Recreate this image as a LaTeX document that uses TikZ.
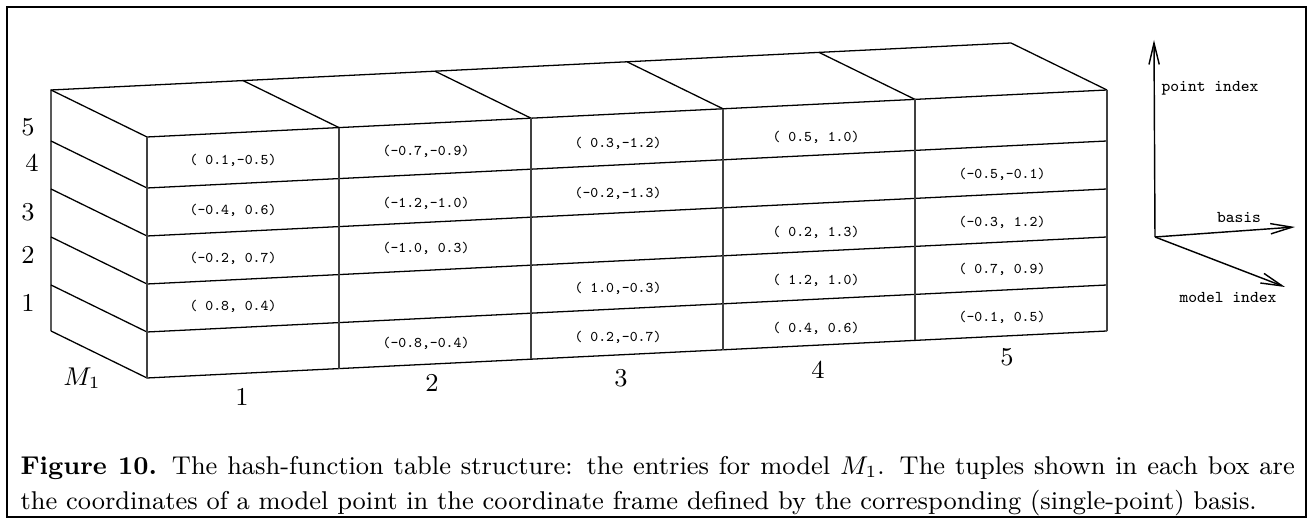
\documentclass[tikz,border=0pt]{standalone}
\usetikzlibrary{arrows.meta}
\begin{document}
\begin{tikzpicture}[x=0.35pt,y=-0.35pt,
  grid/.style={line width=0.45pt},
  colline/.style={line width=0.45pt, black!75},
  entry/.style={font=\ttfamily\fontsize{5.2}{6}\selectfont, inner sep=0pt},
  idx/.style={font=\fontsize{9}{11}\selectfont, inner sep=0pt},
  axlabel/.style={font=\ttfamily\fontsize{5.8}{7}\selectfont, inner sep=0pt},
  axis/.style={line width=0.5pt, -{Straight Barb[length=7.5pt,width=3.6pt]}}]
\useasboundingbox (0,0) rectangle (1309,519);
\draw[line width=0.9pt] (7,7) rectangle (1306,517);
% table box
\foreach \r in {0,51,99,147,195,241}
  \draw[grid] (51,90+\r) -- (147,137+\r) -- (1107,90+\r);
\draw[grid] (51,331) -- (51,90) -- (1011,43) -- (1107,90);
\foreach \i in {1,...,4}
  \draw[grid] (147+192*\i,137-9.4*\i) -- ++(-96,-47);
\foreach \i in {0,...,5}
  \draw[colline] (147+192*\i,137-9.4*\i) -- ++(0,241);
% point index labels
\node[idx] (r5) at (28,127) {5};
\node[idx] (r4) at (32,163) {4};
\node[idx] (r3) at (28,212) {3};
\node[idx] (r2) at (28,255) {2};
\node[idx] (r1) at (28,303) {1};
\node[idx] (m1) at (82,378) {$M_1$};
% basis labels
\node[idx] (c1) at (242,397) {1};
\node[idx] (c2) at (432,383) {2};
\node[idx] (c3) at (621,378) {3};
\node[idx] (c4) at (818,370) {4};
\node[idx] (c5) at (1007,357) {5};
% entries
\node[entry] (t15) at (233,160) {( 0.1,-0.5)};
\node[entry] (t14) at (233,210) {(-0.4, 0.6)};
\node[entry] (t13) at (233,258) {(-0.2, 0.7)};
\node[entry] (t12) at (233,306) {( 0.8, 0.4)};
\node[entry] (t25) at (426,151) {(-0.7,-0.9)};
\node[entry] (t24) at (426,203) {(-1.2,-1.0)};
\node[entry] (t23) at (426,248) {(-1.0, 0.3)};
\node[entry] (t21) at (426,343) {(-0.8,-0.4)};
\node[entry] (t35) at (618,143) {( 0.3,-1.2)};
\node[entry] (t34) at (618,193) {(-0.2,-1.3)};
\node[entry] (t32) at (618,288) {( 1.0,-0.3)};
\node[entry] (t31) at (618,337) {( 0.2,-0.7)};
\node[entry] (t45) at (816,137) {( 0.5, 1.0)};
\node[entry] (t43) at (816,232) {( 0.2, 1.3)};
\node[entry] (t42) at (816,280) {( 1.2, 1.0)};
\node[entry] (t41) at (816,328) {( 0.4, 0.6)};
\node[entry] (t54) at (1002,174) {(-0.5,-0.1)};
\node[entry] (t53) at (1002,222) {(-0.3, 1.2)};
\node[entry] (t52) at (1002,269) {( 0.7, 0.9)};
\node[entry] (t51) at (1002,317) {(-0.1, 0.5)};
% axes
\coordinate (o) at (1155,237);
\coordinate (pt) at (1154,40);
\coordinate (bs) at (1295,227);
\coordinate (md) at (1285,287);
\draw[axis] (o) -- (pt);
\draw[axis] (o) -- (bs);
\draw[axis] (o) -- (md);
\node[axlabel] (lpt) at (1210,88) {point index};
\node[axlabel] (lbs) at (1239,217) {basis};
\node[axlabel] (lmd) at (1228,297) {model index};
% caption
\node[anchor=base west, inner sep=0pt] (cap) at (20,475) {\parbox[t]{446pt}{\fontsize{9}{12.25}\selectfont
  \textbf{Figure 10.} The hash-function table structure: the entries for model $M_1$. The tuples shown in each box are\linebreak
  the coordinates of a model point in the coordinate frame defined by the corresponding (single-point) basis.}};
\end{tikzpicture}
\end{document}
